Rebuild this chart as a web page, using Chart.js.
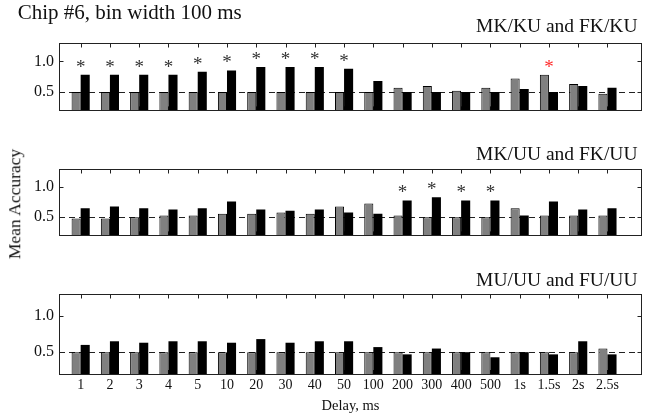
<!DOCTYPE html>
<html><head><meta charset="utf-8">
<script src="https://cdn.jsdelivr.net/npm/chart.js@4.4.1/dist/chart.umd.min.js"></script>
<style>
html,body{margin:0;padding:0;background:#fff;}
#wrap{position:relative;width:653px;height:417px;overflow:hidden;font-family:"Liberation Serif","Times New Roman",serif;color:#111;}
canvas{position:absolute;left:0;}
.t{position:absolute;white-space:nowrap;line-height:1;}
</style></head><body>
<div id="wrap">
  <canvas id="c1" width="653" height="125" style="top:0px;width:653px;height:125px"></canvas>
  <canvas id="c2" width="653" height="125" style="top:125px;width:653px;height:125px"></canvas>
  <canvas id="c3" width="653" height="167" style="top:250px;width:653px;height:167px"></canvas>
  <div class="t" style="left:17.7px;top:2.4px;font-size:21px">Chip #6, bin width 100 ms</div>
  <div class="t" style="right:15.5px;top:16px;font-size:19.5px">MK/KU and FK/KU</div>
  <div class="t" style="right:15.5px;top:144.4px;font-size:19.5px">MK/UU and FK/UU</div>
  <div class="t" style="right:15.5px;top:270.4px;font-size:19.5px">MU/UU and FU/UU</div>
  <div class="t" style="left:15px;top:204px;font-size:17.5px;transform:translate(-50%,-50%) rotate(-90deg)">Mean Accuracy</div>
</div>
<script>
// ---- data ----
const categories = ['1','2','3','4','5','10','20','30','40','50','100','200','300','400','500','1s','1.5s','2s','2.5s'];
const yTicks = [0.5, 1.0];
const chanceLevel = 0.5;
const xTitle = 'Delay, ms';

// panel 1: MK/KU (gray) and FK/KU (black)
const grayKU  = [0.50,0.50,0.50,0.50,0.50,0.50,0.50,0.50,0.50,0.50,0.50,0.57,0.60,0.52,0.57,0.72,0.78,0.63,0.47];
const blackKU = [0.78,0.78,0.78,0.78,0.83,0.85,0.91,0.91,0.91,0.88,0.68,0.50,0.50,0.50,0.50,0.55,0.50,0.60,0.57];
const sigKU   = [1,1,1,1,1,1,1,1,1,1,0,0,0,0,0,0,2,0,0];

// panel 2: MK/UU (gray) and FK/UU (black)
const grayUU  = [0.48,0.48,0.50,0.53,0.53,0.56,0.56,0.58,0.56,0.68,0.73,0.53,0.50,0.50,0.50,0.65,0.53,0.53,0.53];
const blackUU = [0.65,0.68,0.65,0.63,0.65,0.76,0.63,0.61,0.63,0.58,0.56,0.78,0.83,0.78,0.78,0.53,0.76,0.63,0.65];
const sigUU   = [0,0,0,0,0,0,0,0,0,0,0,1,1,1,1,0,0,0,0];

// panel 3: MU/UU (gray) and FU/UU (black)
const grayFU  = [0.50,0.50,0.50,0.50,0.50,0.50,0.50,0.50,0.50,0.50,0.50,0.50,0.50,0.50,0.50,0.50,0.50,0.50,0.55];
const blackFU = [0.60,0.65,0.63,0.65,0.65,0.63,0.68,0.63,0.65,0.65,0.57,0.47,0.55,0.50,0.43,0.50,0.47,0.65,0.47];
const sigFU   = [0,0,0,0,0,0,0,0,0,0,0,0,0,0,0,0,0,0,0];

// ---- drawing ----
const FONT = '"Liberation Serif","Times New Roman",serif';
const toXY = arr => arr.map((v,i)=>({x:i+1, y:v}));

function framePlugin(sig){
  return {
    id:'frame',
    beforeDatasetsDraw(chart){
      const {ctx, chartArea:a, scales:{x,y}} = chart;
      ctx.save();
      ctx.strokeStyle='#222'; ctx.lineWidth=1;
      // bottom inward ticks (hidden mostly behind bars)
      ctx.beginPath();
      categories.forEach((c,i)=>{
        const px = Math.round(x.getPixelForValue(i+1))+0.5;
        ctx.moveTo(px, a.bottom); ctx.lineTo(px, a.bottom-4);
      });
      ctx.stroke();
      // dashed chance line
      const yy = Math.round(y.getPixelForValue(chanceLevel))+0.5;
      ctx.setLineDash([6,4]);
      ctx.beginPath(); ctx.moveTo(a.left, yy); ctx.lineTo(a.right, yy); ctx.stroke();
      ctx.restore();
    },
    afterDatasetsDraw(chart){
      const {ctx, chartArea:a, scales:{x,y}} = chart;
      const L = Math.floor(a.left)+0.5, R = Math.floor(a.right)-0.5;
      const T = Math.floor(a.top)+0.5, B = Math.floor(a.bottom)+0.5;
      ctx.save();
      ctx.strokeStyle='#222'; ctx.lineWidth=1;
      ctx.strokeRect(L, T, R-L, B-T);
      ctx.beginPath();
      categories.forEach((c,i)=>{
        const px = Math.round(x.getPixelForValue(i+1))+0.5;
        ctx.moveTo(px, T); ctx.lineTo(px, T+4);
      });
      yTicks.forEach(v=>{
        const py = Math.round(y.getPixelForValue(v))+0.5;
        ctx.moveTo(L, py); ctx.lineTo(L+4, py);
        ctx.moveTo(R, py); ctx.lineTo(R-4, py);
      });
      ctx.stroke();
      // significance asterisks
      const ds = chart.data.datasets;
      ctx.font = '19px '+FONT;
      ctx.textAlign='center'; ctx.textBaseline='alphabetic';
      sig.forEach((s,i)=>{
        if(!s) return;
        const top = Math.max(ds[0].data[i].y, ds[1].data[i].y) + 0.2;
        const px = x.getPixelForValue(i+1);
        const py = y.getPixelForValue(top);
        ctx.fillStyle = s===2 ? '#ff2a2a' : '#333';
        ctx.fillText('*', px, py + 0.53*19);
      });
      ctx.restore();
    }
  };
}

function makeChart(id, gray, black, sig, pad, showX){
  return new Chart(document.getElementById(id), {
    type:'bar',
    data:{
      datasets:[
        {data:toXY(gray), backgroundColor:'#808080', borderColor:'#000', borderWidth:1, borderSkipped:'bottom'},
        {data:toXY(black), backgroundColor:'#000', borderColor:'#000', borderWidth:0}
      ]
    },
    options:{
      responsive:false, animation:false, devicePixelRatio:1, events:[],
      layout:{padding:pad},
      categoryPercentage:0.62, barPercentage:1.0,
      plugins:{legend:{display:false}, tooltip:{enabled:false}, title:{display:false}},
      scales:{
        x:{
          type:'linear', min:0.26, max:20.18, offset:false,
          display: showX,
          grid:{display:false, drawTicks:false}, border:{display:false},
          afterBuildTicks: s => { s.ticks = categories.map((c,i)=>({value:i+1})); },
          afterFit: s => { if(showX) s.height = 43; },
          ticks:{
            autoSkip:false, maxRotation:0, padding:3, color:'#111',
            font:{family:FONT, size:14},
            callback:(v)=> categories[Math.round(v)-1] ?? ''
          },
          title:{display:showX, text:xTitle, color:'#111', font:{family:FONT, size:14.5}, padding:{top:0,bottom:2}}
        },
        y:{
          min:0.2, max:1.3,
          grid:{display:false, drawTicks:false}, border:{display:false},
          afterBuildTicks: s => { s.ticks = yTicks.map(v=>({value:v})); },
          afterFit: s => { s.width = 59; },
          ticks:{padding:5, color:'#111', font:{family:FONT, size:16}, callback:v=>Number(v).toFixed(1)}
        }
      }
    },
    plugins:[framePlugin(sig)]
  });
}

makeChart('c1', grayKU, blackKU, sigKU, {top:43, bottom:3, left:0, right:11}, false);
makeChart('c2', grayUU, blackUU, sigUU, {top:44, bottom:2, left:0, right:11}, false);
makeChart('c3', grayFU, blackFU, sigFU, {top:44, bottom:0, left:0, right:11}, true);
</script>
</body></html>
